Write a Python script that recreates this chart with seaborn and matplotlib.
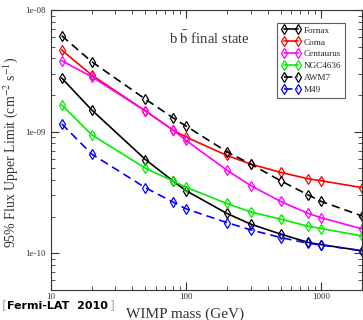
import numpy as np
import pandas as pd
import seaborn as sns
import matplotlib
matplotlib.use("Agg")
import matplotlib.pyplot as plt
from matplotlib.ticker import LogLocator, FuncFormatter, NullFormatter

sns.set_style("ticks")
plt.rcParams['font.family'] = ['Liberation Serif', 'DejaVu Serif']
plt.rcParams['mathtext.fontset'] = 'stix'

masses = [12, 20, 50, 80, 100, 200, 300, 500, 800, 1000, 2000]
fornax = [2.76e-9, 1.51e-9, 5.9e-10, 3.93e-10, 3.27e-10, 2.13e-10, 1.74e-10, 1.44e-10, 1.23e-10, 1.18e-10, 1.05e-10]
coma = [4.69e-9, 2.92e-9, 1.48e-9, 1.03e-9, 9.03e-10, 6.38e-10, 5.42e-10, 4.63e-10, 4.1e-10, 3.95e-10, 3.47e-10]
centaurus = [3.83e-9, 2.83e-9, 1.48e-9, 1.03e-9, 8.47e-10, 4.83e-10, 3.61e-10, 2.67e-10, 2.13e-10, 1.96e-10, 1.59e-10]
ngc4636 = [1.66e-9, 9.44e-10, 5.0e-10, 3.93e-10, 3.49e-10, 2.57e-10, 2.19e-10, 1.91e-10, 1.67e-10, 1.60e-10, 1.39e-10]
awm7 = [6.15e-9, 3.76e-9, 1.85e-9, 1.30e-9, 1.11e-9, 6.84e-10, 5.42e-10, 3.95e-10, 3.02e-10, 2.67e-10, 2.03e-10]
m49 = [1.16e-9, 6.55e-10, 3.46e-10, 2.64e-10, 2.32e-10, 1.79e-10, 1.56e-10, 1.35e-10, 1.21e-10, 1.17e-10, 1.05e-10]

names = ["Fornax", "Coma", "Centaurus", "NGC4636", "AWM7", "M49"]
series = [fornax, coma, centaurus, ngc4636, awm7, m49]
colors = ["black", "#ff0000", "#ff00ff", "#00ee00", "black", "#0000ff"]
styles = ["-", "-", "-", "-", (0, (5, 3)), (0, (5, 3))]

XMIN, XMAX = 10, 2000
YMIN, YMAX = 5e-11, 1e-8

fig = plt.figure(figsize=(3.63, 3.2), dpi=100)
ax = fig.add_axes([51/363, 30/320, 311/363, 280/320])

for name, vals, c, ls in zip(names, series, colors, styles):
    df = pd.DataFrame({"mass": masses, "flux": vals})
    sns.lineplot(data=df, x="mass", y="flux", ax=ax, color=c, linestyle=ls,
                 marker="d", markersize=5.5, markerfacecolor="none",
                 markeredgecolor=c, markeredgewidth=0.9, linewidth=1.2,
                 label=name)

ax.set_xscale("log")
ax.set_yscale("log")
ax.set_xlim(XMIN, XMAX)
ax.set_ylim(YMIN, YMAX)

ax.xaxis.set_major_locator(LogLocator(base=10))
ax.yaxis.set_major_locator(LogLocator(base=10))
ax.xaxis.set_minor_locator(LogLocator(base=10, subs=np.arange(2, 10)))
ax.yaxis.set_minor_locator(LogLocator(base=10, subs=np.arange(2, 10)))
ax.xaxis.set_major_formatter(FuncFormatter(
    lambda v, p: f"{int(round(v))}" if XMIN * 0.99 <= v <= XMAX * 1.01 else ""))
ax.yaxis.set_major_formatter(FuncFormatter(
    lambda v, p: f"{v:.0e}" if YMIN * 0.99 <= v <= YMAX * 1.01 else ""))
ax.xaxis.set_minor_formatter(NullFormatter())
ax.yaxis.set_minor_formatter(NullFormatter())
ax.tick_params(which="both", direction="in", top=True, right=True, labelsize=6.5, colors="#333333", labelcolor="#333333")
ax.tick_params(which="major", length=6, width=0.8)
ax.tick_params(which="minor", length=3, width=0.6)
ax.tick_params(axis="x", pad=2)
ax.tick_params(axis="y", pad=4)
for s in ax.spines.values():
    s.set_color("#333333")
    s.set_linewidth(0.8)

ax.set_xlabel("WIMP mass (GeV)", fontsize=11, color="#333333")
ax.xaxis.set_label_coords((185 - 51) / 311, -(308 - 290) / 280)
ax.set_ylabel("95% Flux Upper Limit (cm$^{-2}$ s$^{-1}$)", fontsize=10, color="#333333")
ax.yaxis.set_label_coords(-(51 - 20) / 311, (290 - 152) / 280)

ax.text(0.51, 0.90, r"b $\bar{\mathrm{b}}$ final state", transform=ax.transAxes,
        fontsize=10.5, ha="center", va="center", color="#333333")

leg = ax.legend(loc="upper right", bbox_to_anchor=(0.945, 0.955), fontsize=6.6,
                numpoints=2, handlelength=2.2, handletextpad=0.3, labelspacing=0.38,
                borderpad=0.4, frameon=True, fancybox=False, borderaxespad=0)
leg.get_frame().set_edgecolor("#333333")
leg.get_frame().set_linewidth(0.8)

ty = 1 - 306 / 320
fig.text(2/363, ty, "[", fontsize=9, color="#aaaaaa", va="center", ha="left",
         family=["DejaVu Sans"])
main = fig.text(7/363, ty, "Fermi-LAT  2010", fontsize=8, fontweight="bold",
                color="black", va="center", ha="left", family=["DejaVu Sans"])
fig.canvas.draw()
bb = main.get_window_extent()
fig.text((bb.x1 + 1.5) / 363, ty, "]", fontsize=9, color="#aaaaaa", va="center", ha="left",
         family=["DejaVu Sans"])

fig.savefig("out.png", dpi=100)
